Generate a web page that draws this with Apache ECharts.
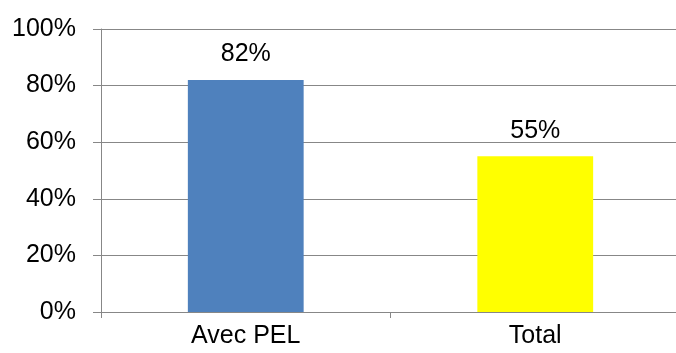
<!DOCTYPE html>
<html>
<head>
<meta charset="utf-8">
<script src="https://cdn.jsdelivr.net/npm/echarts@6/dist/echarts.min.js"></script>
<style>
  html, body { margin: 0; padding: 0; background: #fff; }
  #chart { width: 676px; height: 353px; }
</style>
</head>
<body>
<div id="chart"></div>
<script>
// Share of respondents, in percent
const categories = ['Avec PEL', 'Total'];
const values = [82, 55];
const barColors = ['#4F81BD', '#FFFF00'];
const yTicks = { min: 0, max: 100, interval: 20 };

const FONT = 'Liberation Sans, Arial, sans-serif';
const GRID = '#878787';

const chart = echarts.init(document.getElementById('chart'), null, { renderer: 'canvas' });
chart.setOption({
  animation: false,
  backgroundColor: '#ffffff',
  // plot area runs a little past the right edge of the canvas
  grid: {
    left: 101, top: 29, bottom: 41, width: 579,
    containLabel: false, outerBoundsMode: 'none'
  },
  xAxis: {
    type: 'category',
    data: categories,
    axisLine: { lineStyle: { color: GRID, width: 1 } },
    axisTick: { show: true, length: 6, lineStyle: { color: GRID } },
    axisLabel: { color: '#000', fontFamily: FONT, fontSize: 25, margin: 12 }
  },
  yAxis: {
    type: 'value',
    min: yTicks.min,
    max: yTicks.max,
    interval: yTicks.interval,
    axisLine: { show: true, lineStyle: { color: GRID, width: 1 } },
    axisTick: { show: true, length: 8, lineStyle: { color: GRID } },
    splitLine: { show: true, lineStyle: { color: GRID, width: 1 } },
    axisLabel: {
      color: '#000', fontFamily: FONT, fontSize: 25, margin: 25,
      formatter: '{value}%'
    }
  },
  series: [{
    type: 'bar',
    barWidth: '40%',
    data: values.map((v, i) => ({ value: v, itemStyle: { color: barColors[i] } })),
    label: {
      show: true, position: 'top', distance: 13,
      color: '#000', fontFamily: FONT, fontSize: 25,
      formatter: p => p.value + '%'
    }
  }]
});
</script>
</body>
</html>
